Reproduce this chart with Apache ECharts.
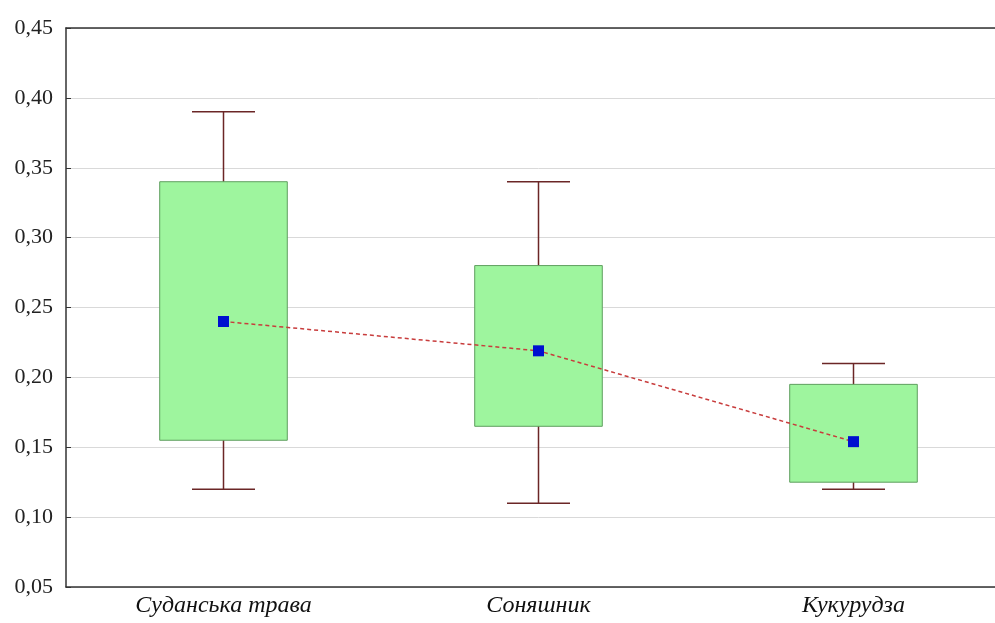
<!DOCTYPE html>
<html>
<head>
<meta charset="utf-8">
<script src="https://cdn.jsdelivr.net/npm/echarts@6/dist/echarts.min.js"></script>
<style>html,body{margin:0;padding:0;background:#fff;overflow:hidden;}#c{width:1011px;height:623px;}</style>
</head>
<body>
<div id="c"></div>
<script>
const categories = ['Суданська трава', 'Соняшник', 'Кукурудза'];
const whiskerMin = [0.12, 0.11, 0.12];
const boxLow = [0.155, 0.165, 0.125];
const boxHigh = [0.34, 0.28, 0.195];
const whiskerMax = [0.39, 0.34, 0.21];
const means = [0.24, 0.219, 0.154];
const yTicks = { min: 0.05, max: 0.45, interval: 0.05 };

const boxData = categories.map((c, i) => [i, whiskerMin[i], boxLow[i], boxHigh[i], whiskerMax[i]]);

const chart = echarts.init(document.getElementById('c'));
const font = 'Liberation Serif';
chart.setOption({
  animation: false,
  grid: { left: 66, top: 28, right: 0, bottom: 36, containLabel: false },
  xAxis: [{
    type: 'category', data: categories, position: 'bottom',
    axisLine: { lineStyle: { color: '#333', width: 1.5 } },
    axisTick: { inside: true, alignWithLabel: true, length: 5, lineStyle: { color: '#333' } },
    axisLabel: { fontFamily: font, fontStyle: 'italic', fontSize: 24, color: '#111', margin: 7 },
    splitLine: { show: false }
  }, {
    type: 'category', data: categories, position: 'top',
    axisLine: { lineStyle: { color: '#333', width: 1.5 } },
    axisTick: { inside: true, alignWithLabel: true, length: 5, lineStyle: { color: '#333' } },
    axisLabel: { show: false }
  }],
  yAxis: [{
    type: 'value', min: yTicks.min, max: yTicks.max, interval: yTicks.interval,
    axisLine: { show: true, lineStyle: { color: '#333', width: 1.5 } },
    axisTick: { show: true, inside: true, length: 5, lineStyle: { color: '#333' } },
    axisLabel: { fontFamily: font, fontSize: 22, color: '#222', margin: 13,
      formatter: v => v.toFixed(2).replace('.', ',') },
    splitLine: { show: true, lineStyle: { color: '#d9d9d9', width: 1 } }
  }],
  series: [{
    type: 'custom',
    data: boxData,
    encode: { x: 0, y: [1, 2, 3, 4] },
    renderItem: function (params, api) {
      const x = api.value(0);
      const pMin = api.coord([x, api.value(1)]);
      const pLow = api.coord([x, api.value(2)]);
      const pHigh = api.coord([x, api.value(3)]);
      const pMax = api.coord([x, api.value(4)]);
      const band = api.size([1, 0])[0];
      const bw = band * 0.405;
      const cw = band * 0.2;
      const wStyle = { stroke: '#6b2626', lineWidth: 1.5 };
      return {
        type: 'group',
        children: [
          { type: 'line', shape: { x1: pMin[0], y1: pMin[1], x2: pMax[0], y2: pMax[1] }, style: wStyle },
          { type: 'line', shape: { x1: pMin[0] - cw / 2, y1: pMin[1], x2: pMin[0] + cw / 2, y2: pMin[1] }, style: wStyle },
          { type: 'line', shape: { x1: pMax[0] - cw / 2, y1: pMax[1], x2: pMax[0] + cw / 2, y2: pMax[1] }, style: wStyle },
          { type: 'rect', shape: { x: pHigh[0] - bw / 2, y: pHigh[1], width: bw, height: pLow[1] - pHigh[1] },
            style: { fill: '#9ef59e', stroke: '#5f9f5f', lineWidth: 1 } }
        ]
      };
    },
    z: 2
  }, {
    type: 'line',
    data: means,
    symbol: 'rect',
    symbolSize: 11,
    itemStyle: { color: '#0010d0' },
    lineStyle: { color: '#c83c3c', width: 1.5, type: [4, 3] },
    z: 3
  }]
});
</script>
</body>
</html>
